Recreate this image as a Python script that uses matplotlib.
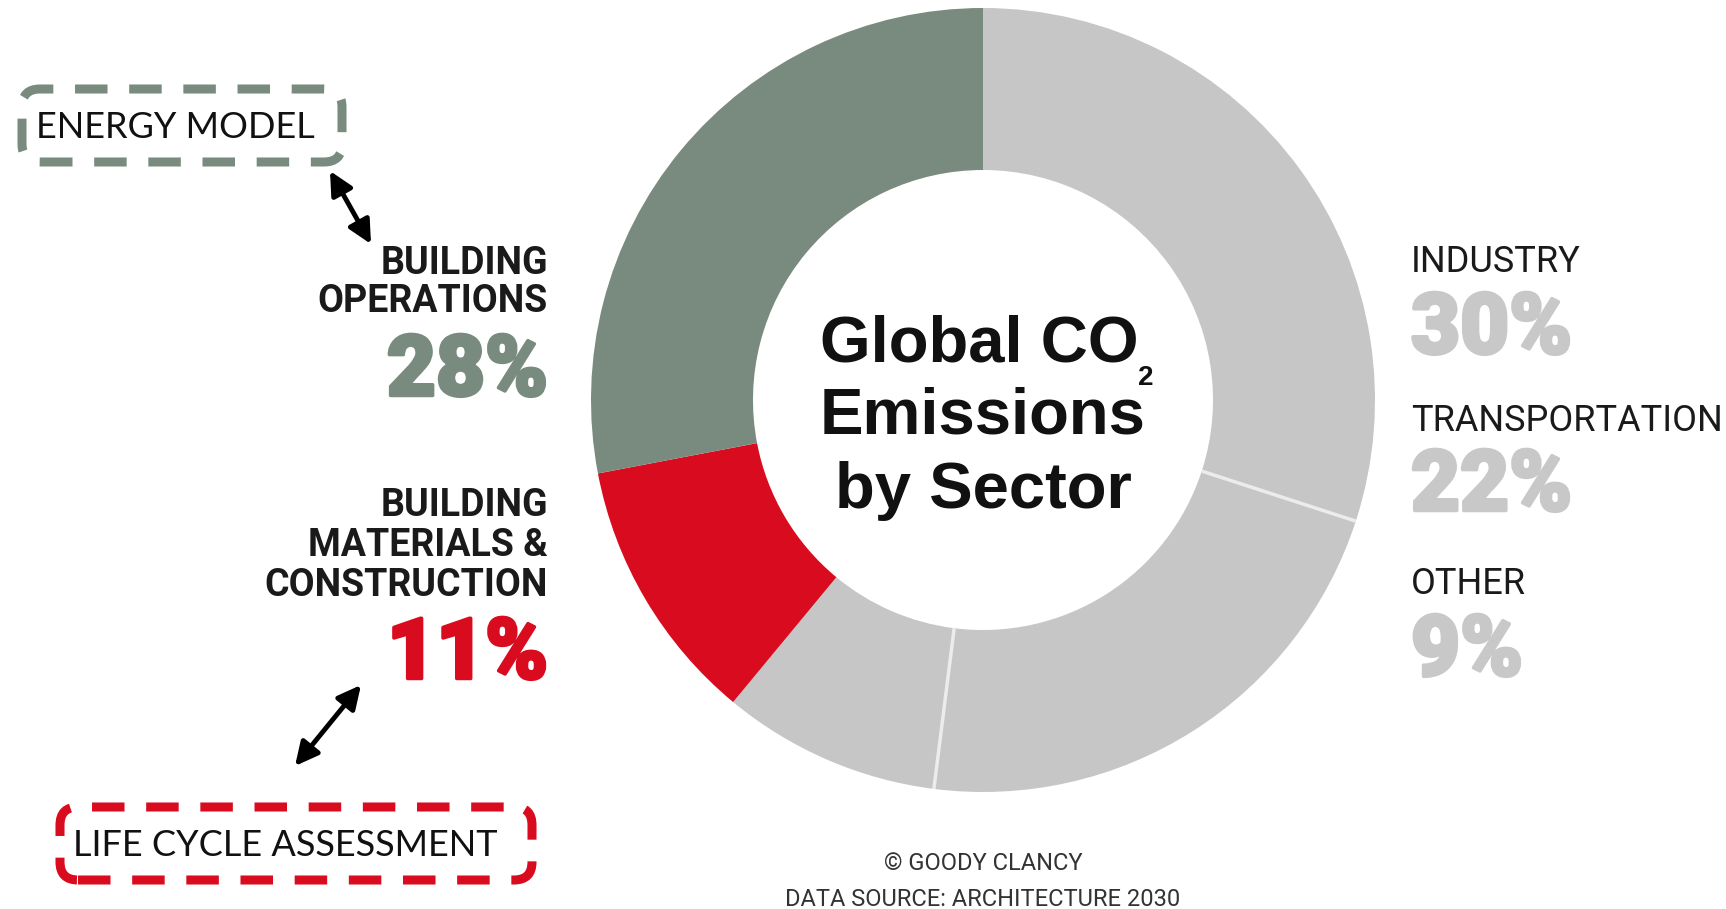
#!/usr/bin/env python3
"""Global CO2 emissions by sector: donut chart with side labels and callout boxes."""
import numpy as np
import matplotlib
matplotlib.use("Agg")
import matplotlib.pyplot as plt
import matplotlib.patheffects as pe
from matplotlib.patches import FancyBboxPatch

# sector shares, clockwise from 12 o'clock
sectors = ["INDUSTRY", "TRANSPORTATION", "OTHER",
           "BUILDING MATERIALS & CONSTRUCTION", "BUILDING OPERATIONS"]
shares = [30, 22, 9, 11, 28]

GREEN = "#798b7f"
GRAY = "#c6c6c6"
RED = "#d90b1e"
slice_colors = [GRAY, GRAY, GRAY, RED, GREEN]

W, H = 1726, 909
NARROW = ["Roboto", "DejaVu Sans"]
HEAVY = ["Roboto", "DejaVu Sans"]
LIGHT = ["Lato", "DejaVu Sans"]


def Y(y):
    # top-down pixel row -> data y
    return H - y


def fat(color):
    # thicken the big percentage figures a little
    return [pe.withStroke(linewidth=2.5, foreground=color)]


def main():
    fig = plt.figure(figsize=(W / 100, H / 100), dpi=100)
    ax = fig.add_axes([0, 0, 1, 1])

    cx, cy, R, ring = 983, 400, 392, 162
    ax.pie(shares, colors=slice_colors, startangle=90, counterclock=False,
           center=(cx, Y(cy)), radius=R,
           wedgeprops=dict(width=ring, linewidth=0))

    # thin light dividers between the grey sectors
    cum = np.cumsum(shares)
    for c in cum[:2]:
        ang = np.deg2rad(90 - 360 * c / sum(shares))
        ax.plot([cx + (R - ring) * np.cos(ang), cx + R * np.cos(ang)],
                [Y(cy) + (R - ring) * np.sin(ang), Y(cy) + R * np.sin(ang)],
                color="#ececec", lw=2.5, solid_capstyle="butt")

    # centre title
    title_kw = dict(ha="center", va="center", color="#111111",
                    family=["Liberation Sans", "DejaVu Sans"], weight="bold")
    ax.text(cx - 4, Y(344), "Global CO", fontsize=47, **title_kw)
    ax.text(1146, Y(378), "2", fontsize=20, **title_kw)
    ax.text(cx, Y(416), "Emissions", fontsize=47, **title_kw)
    ax.text(cx, Y(491), "by Sector", fontsize=47, **title_kw)

    # left labels
    lab_kw = dict(ha="right", va="center", color="#1a1a1a", family=NARROW,
                  weight="bold", fontsize=27)
    pct_kw = dict(ha="right", va="center", family=HEAVY, weight="black",
                  fontsize=61)
    ax.text(548, Y(263), "BUILDING", **lab_kw)
    ax.text(548, Y(302), "OPERATIONS", **lab_kw)
    ax.text(548, Y(372), f"{shares[4]}%", color=GREEN,
            path_effects=fat(GREEN), **pct_kw)
    ax.text(548, Y(505), "BUILDING", **lab_kw)
    ax.text(548, Y(546), "MATERIALS &", **lab_kw)
    ax.text(548, Y(586), "CONSTRUCTION", **lab_kw)
    ax.text(548, Y(655), f"{shares[3]}%", color=RED,
            path_effects=fat(RED), **pct_kw)

    # right labels
    rlab_kw = dict(ha="left", va="center", color="#1a1a1a", family=NARROW,
                   fontsize=26)
    rpct_kw = dict(ha="left", va="center", color="#c8c8c8", family=HEAVY,
                   weight="black", fontsize=61,
                   path_effects=fat("#c8c8c8"))
    for name, val, ly, py in zip(sectors[:3], shares[:3],
                                 [262, 421, 584], [330, 487, 652]):
        ax.text(1411, Y(ly), name, **rlab_kw)
        ax.text(1411, Y(py), f"{val}%", **rpct_kw)

    # credits
    foot_kw = dict(ha="center", va="center", color="#333333", family=NARROW,
                   fontsize=17)
    ax.text(cx, Y(863), "\u00a9 GOODY CLANCY", **foot_kw)
    ax.text(cx, Y(899), "DATA SOURCE: ARCHITECTURE 2030", **foot_kw)

    # dashed callout boxes
    for (x0, y0, x1, y1), col, txt, tx in [
            ((22, 89, 342, 162), GREEN, "ENERGY MODEL", 36),
            ((60, 807, 532, 880), RED, "LIFE CYCLE ASSESSMENT", 73)]:
        box = FancyBboxPatch((x0, Y(y1)), x1 - x0, y1 - y0,
                             boxstyle="round,pad=0,rounding_size=18",
                             fill=False, edgecolor=col, lw=6.5,
                             linestyle=(0, (3.6, 2.4)), capstyle="butt")
        ax.add_patch(box)
        ax.text(tx, Y((y0 + y1) / 2 + 2), txt, ha="left", va="center",
                family=LIGHT, weight="normal", fontsize=26, color="#111111")

    # double-headed arrows linking boxes to labels
    arrow_kw = dict(arrowstyle="<|-|>,head_length=1.0,head_width=0.5",
                    color="black", lw=3.5, mutation_scale=14,
                    shrinkA=0, shrinkB=0)
    ax.annotate("", xy=(330, Y(171)), xytext=(371, Y(244)), arrowprops=arrow_kw)
    ax.annotate("", xy=(361, Y(685)), xytext=(295, Y(766)), arrowprops=arrow_kw)

    ax.set_xlim(0, W)
    ax.set_ylim(0, H)
    ax.set_aspect("auto")
    ax.axis("off")
    fig.savefig("out.png", dpi=100, facecolor="white")
    plt.close(fig)


if __name__ == "__main__":
    main()
